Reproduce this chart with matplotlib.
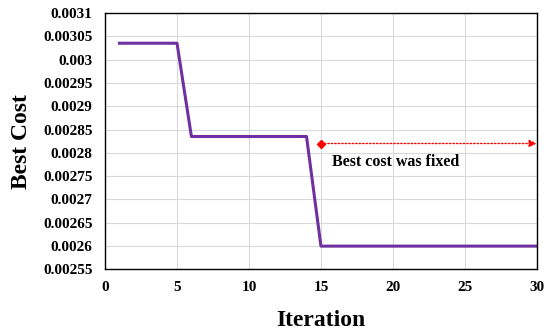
import numpy as np
import matplotlib.pyplot as plt

plt.rcParams['font.family'] = ['Liberation Serif', 'DejaVu Serif']
plt.rcParams['font.weight'] = 'bold'

# Best cost per iteration
iterations = list(range(1, 31))
best_cost = [0.003035] * 5 + [0.002835] * 9 + [0.0026] * 16

fixed_start = 15
fixed_end = 30
fixed_level = 0.00282

fig, ax = plt.subplots(figsize=(5.5, 3.31), dpi=100)
fig.subplots_adjust(left=0.191, right=0.976, top=0.961, bottom=0.186)

ax.plot(iterations, best_cost, color='#7030A0', linewidth=2.2)

# fixed-cost marker arrow
ax.plot([fixed_start], [fixed_level], marker='D', color='red', markersize=4)
ax.annotate('', xy=(fixed_end, fixed_level), xytext=(fixed_start, fixed_level),
            arrowprops=dict(arrowstyle='-|>', color='red', linestyle=(0, (1, 1.5)),
                            linewidth=1, mutation_scale=11, shrinkA=0, shrinkB=0))
ax.text(15.75, 0.00278, 'Best cost was fixed', fontsize=11.5, fontweight='bold',
        va='center', ha='left')

ax.set_xlim(0, 30)
ax.set_ylim(0.00255, 0.0031)
ax.set_xticks(np.arange(0, 31, 5))
yt = np.arange(0.00255, 0.003101, 0.00005)
ax.set_yticks(yt)
ax.set_yticklabels([('%.5f' % v).rstrip('0') for v in yt])
ax.tick_params(labelsize=11, length=0)
ax.tick_params(axis='x', pad=8)
ax.tick_params(axis='y', pad=9)

ax.grid(True, color='#d9d9d9', linewidth=0.8)
ax.set_axisbelow(True)
for s in ax.spines.values():
    s.set_color('black')
    s.set_linewidth(1)

ax.set_xlabel('Iteration', fontsize=17, fontweight='bold', labelpad=12)
ax.set_ylabel('Best Cost', fontsize=17, fontweight='bold', labelpad=8)

fig.savefig('out.png', dpi=100)
